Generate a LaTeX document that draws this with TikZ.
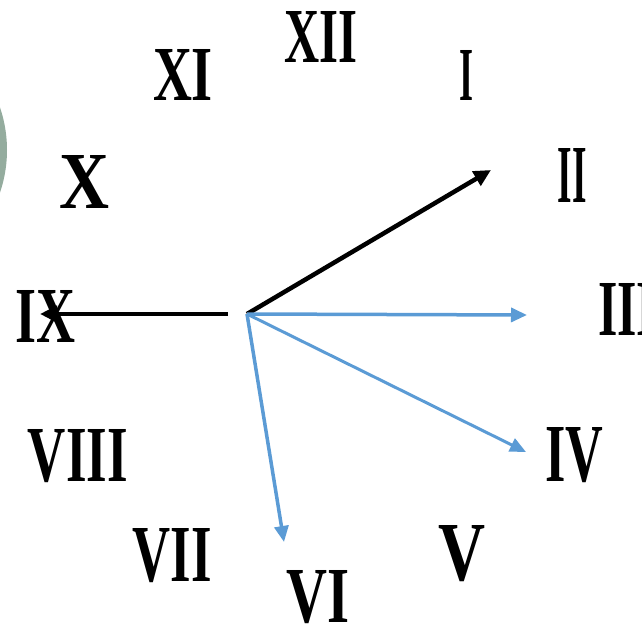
\documentclass[tikz,border=0pt]{standalone}
\usepackage{fontspec}
\setmainfont{Liberation Serif}
\usetikzlibrary{arrows.meta}

% 罗马数字：按给定宽度和高度缩放
\newcommand{\romnum}[3]{\resizebox{#1pt}{#2pt}{\bfseries #3}}

\definecolor{handblue}{RGB}{91,155,213}
\definecolor{discgreen}{RGB}{148,172,158}

\begin{document}
\begin{tikzpicture}[x=1pt, y=-1pt, line join=round]
    \tikzset{
        numeral/.style={inner sep=0pt, outer sep=0pt},
        blackhand/.style={line width=4.5pt, black, -{Triangle[length=17pt,width=16pt]}},
        bluehand/.style={line width=3.5pt, handblue, -{Triangle[length=16pt,width=14pt]}},
    }
    \useasboundingbox (0,0) rectangle (642,628);
    \clip (0,0) rectangle (642,628);

    % 左边缘的灰绿色圆片
    \fill[discgreen] (-125,150) circle (132);

    % 表盘上的罗马数字
    \node[numeral] (n12) at (321,37)  {\romnum{73}{51}{XII}};
    \node[numeral] (n1)  at (466,75)  {\romnum{14}{50}{I}};
    \node[numeral] (n2)  at (572,175) {\romnum{29}{54}{II}};
    \node[numeral] (n3)  at (627,309) {\romnum{58}{52}{III}};
    \node[numeral] (n4)  at (574,455) {\romnum{58}{54}{IV}};
    \node[numeral] (n5)  at (462,554) {\romnum{47}{55}{V}};
    \node[numeral] (n6)  at (318,597) {\romnum{63}{52}{VI}};
    \node[numeral] (n7)  at (172,556) {\romnum{79}{53}{VII}};
    \node[numeral] (n8)  at (78,456)  {\romnum{100}{52}{VIII}};
    \node[numeral] (n9)  at (45,316)  {\romnum{60}{52}{IX}};
    \node[numeral] (n10) at (85,182)  {\romnum{50}{53}{X}};
    \node[numeral] (n11) at (183,75)  {\romnum{60}{51}{XI}};

    % 表盘中心与指针端点
    \coordinate (O) at (247,314);
    \coordinate (S9) at (228,314);
    \coordinate (T9) at (40,314);
    \coordinate (T2) at (491,170);
    \coordinate (T3) at (527,315);
    \coordinate (T4) at (526,452);
    \coordinate (T6) at (284,542);

    % 黑色指针
    \draw[blackhand] (S9) -- (T9);
    \draw[blackhand] (O) -- (T2);

    % 蓝色指针
    \draw[bluehand] (O) -- (T3);
    \draw[bluehand, line width=3pt] (O) -- (T4);
    \draw[bluehand] (O) -- (T6);
\end{tikzpicture}
\end{document}
